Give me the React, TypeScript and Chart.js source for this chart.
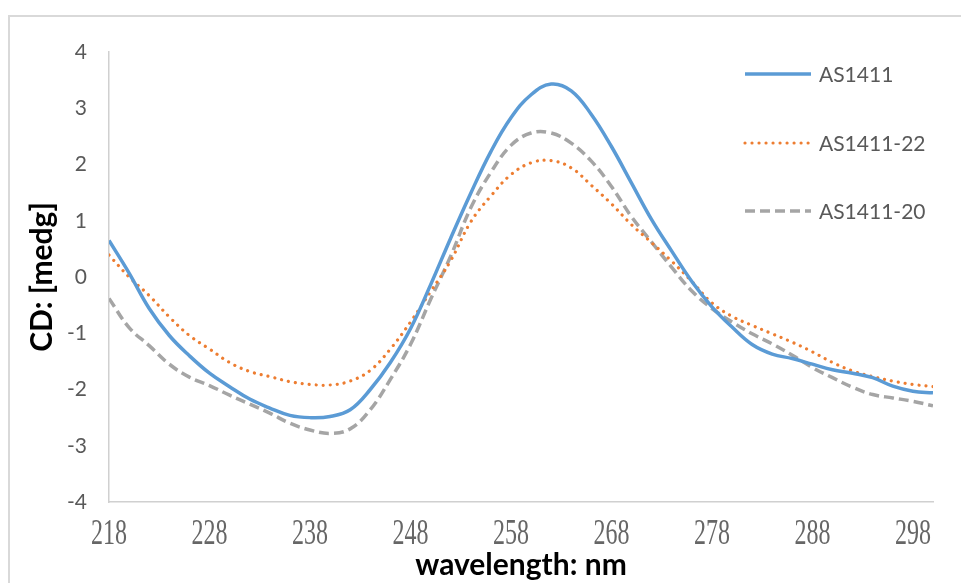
import React, { useEffect, useRef } from "react";
import { Chart, registerables } from "chart.js";

Chart.register(...registerables);

// CD spectra, 218–300 nm sampled every 2 nm
const wavelengths = [
  218, 220, 222, 224, 226, 228, 230, 232, 234, 236, 238, 240, 242, 244, 246, 248, 250, 252, 254, 256, 258,
  260, 262, 264, 266, 268, 270, 272, 274, 276, 278, 280, 282, 284, 286, 288, 290, 292, 294, 296, 298, 300,
];

const as1411 = [
  0.65, 0.07, -0.56, -1.04, -1.4, -1.71, -1.95, -2.17, -2.33, -2.46, -2.5, -2.48, -2.36, -2.0, -1.52, -0.92,
  -0.14, 0.69, 1.49, 2.23, 2.83, 3.24, 3.43, 3.31, 2.89, 2.32, 1.67, 1.02, 0.46, -0.08, -0.53, -0.89, -1.2,
  -1.37, -1.45, -1.55, -1.65, -1.71, -1.79, -1.94, -2.03, -2.06,
];

const as1411_22 = [
  0.39, 0.0, -0.33, -0.71, -1.04, -1.28, -1.52, -1.68, -1.77, -1.86, -1.91, -1.92, -1.85, -1.66, -1.28, -0.8,
  -0.26, 0.29, 0.98, 1.44, 1.82, 2.03, 2.07, 1.94, 1.63, 1.3, 0.93, 0.61, 0.28, -0.08, -0.46, -0.7, -0.86,
  -1.01, -1.16, -1.33, -1.52, -1.67, -1.77, -1.85, -1.91, -1.95,
];

const as1411_20 = [
  -0.38, -0.9, -1.22, -1.55, -1.78, -1.93, -2.1, -2.26, -2.42, -2.6, -2.72, -2.78, -2.7, -2.36, -1.82, -1.2,
  -0.4, 0.37, 1.23, 1.86, 2.34, 2.56, 2.56, 2.38, 2.06, 1.61, 1.07, 0.62, 0.17, -0.25, -0.56, -0.8, -1.01,
  -1.19, -1.39, -1.61, -1.79, -1.96, -2.09, -2.15, -2.21, -2.29,
];

const seriesNames = ["AS1411", "AS1411-22", "AS1411-20"];
const xTickValues = [218, 228, 238, 248, 258, 268, 278, 288, 298];
const yTickValues = [-4, -3, -2, -1, 0, 1, 2, 3, 4];
const xAxisTitle = "wavelength: nm";
const yAxisTitle = "CD: [medg]";

const toPoints = (ys: number[]) => wavelengths.map((x, i) => ({ x, y: ys[i] }));

const TEXT_GRAY = "#595959";
const AXIS_GRAY = "#d0d0d0";

// White background plus the outer chart frame
const framePlugin = {
  id: "frame",
  beforeDraw(chart: any) {
    const { ctx, width, height } = chart;
    ctx.save();
    ctx.fillStyle = "#ffffff";
    ctx.fillRect(0, 0, width, height);
    ctx.strokeStyle = "#d9d9d9";
    ctx.lineWidth = 2;
    ctx.beginPath();
    ctx.moveTo(9, height);
    ctx.lineTo(9, 16);
    ctx.lineTo(width, 16);
    ctx.stroke();
    ctx.restore();
  },
};

// Category-style wavelength labels under the x axis
const xLabelsPlugin = {
  id: "xLabels",
  afterDraw(chart: any) {
    const { ctx } = chart;
    const xs = chart.scales.x;
    ctx.save();
    ctx.font = '24px "Liberation Serif"';
    ctx.fillStyle = "#666666";
    ctx.textAlign = "center";
    ctx.textBaseline = "alphabetic";
    for (const v of xTickValues) {
      const px = xs.getPixelForValue(v);
      ctx.save();
      ctx.translate(px, 544);
      ctx.scale(1, 1.5);
      ctx.fillText(String(v), 0, 0);
      ctx.restore();
    }
    ctx.restore();
  },
};

// Legend stacked in the upper right of the plot
const legendPlugin = {
  id: "sideLegend",
  afterDraw(chart: any) {
    const { ctx } = chart;
    const rows = [74, 143, 211];
    ctx.save();
    chart.data.datasets.forEach((ds: any, i: number) => {
      const y = rows[i];
      ctx.strokeStyle = ds.borderColor;
      ctx.lineWidth = ds.borderWidth;
      ctx.lineCap = ds.borderCapStyle || "butt";
      ctx.setLineDash(ds.borderDash || []);
      ctx.beginPath();
      ctx.moveTo(745, y);
      ctx.lineTo(811, y);
      ctx.stroke();
      ctx.setLineDash([]);
      ctx.font = '21px "Lato"';
      ctx.fillStyle = TEXT_GRAY;
      ctx.textAlign = "left";
      ctx.textBaseline = "middle";
      ctx.fillText(ds.label, 819, y + 1);
    });
    ctx.restore();
  },
};

export default function App() {
  const canvasRef = useRef<HTMLCanvasElement>(null);

  useEffect(() => {
    const canvas = canvasRef.current;
    if (!canvas) return;
    const chart = new Chart(canvas, {
      type: "line",
      data: {
        datasets: [
          {
            label: seriesNames[0],
            data: toPoints(as1411),
            borderColor: "#5B9BD5",
            borderWidth: 3.5,
            pointRadius: 0,
            fill: false,
            tension: 0.4,
          },
          {
            label: seriesNames[1],
            data: toPoints(as1411_22),
            borderColor: "#ED7D31",
            borderWidth: 3.2,
            borderDash: [0.01, 7],
            borderCapStyle: "round",
            pointRadius: 0,
            fill: false,
            tension: 0.4,
          },
          {
            label: seriesNames[2],
            data: toPoints(as1411_20),
            borderColor: "#A5A5A5",
            borderWidth: 3.5,
            borderDash: [10, 5],
            pointRadius: 0,
            fill: false,
            tension: 0.4,
          },
        ],
      },
      options: {
        responsive: false,
        animation: false,
        devicePixelRatio: 1,
        layout: { padding: { left: 0, right: 28, top: 52, bottom: 0 } },
        plugins: {
          legend: { display: false },
          tooltip: { enabled: false },
        },
        scales: {
          x: {
            type: "linear",
            min: 218,
            max: 300,
            afterBuildTicks: (scale: any) => {
              scale.ticks = xTickValues.map((value) => ({ value }));
            },
            afterFit: (scale: any) => {
              scale.height = 81;
            },
            grid: { display: false, drawTicks: false },
            border: { display: true, color: AXIS_GRAY, width: 1.5 },
            ticks: { display: false },
            title: {
              display: true,
              text: xAxisTitle,
              color: "#000000",
              font: { family: "Lato", size: 30, weight: "bold" },
              padding: { top: 0, bottom: 0 },
            },
          },
          y: {
            type: "linear",
            min: -4,
            max: 4,
            afterBuildTicks: (scale: any) => {
              scale.ticks = yTickValues.map((value) => ({ value }));
            },
            afterFit: (scale: any) => {
              scale.width = 109;
            },
            grid: { display: false, drawTicks: false },
            border: { display: true, color: AXIS_GRAY, width: 1.5 },
            ticks: {
              color: TEXT_GRAY,
              font: { family: "Lato", size: 21 },
              padding: 22,
              callback: (v: any) => String(v),
            },
            title: {
              display: true,
              text: yAxisTitle,
              color: "#000000",
              font: { family: "Lato", size: 30, weight: "bold" },
              padding: { top: 24, bottom: 0 },
            },
          },
        },
      },
      plugins: [framePlugin, xLabelsPlugin, legendPlugin],
    });
    return () => chart.destroy();
  }, []);

  return (
    <div style={{ position: "fixed", left: 0, top: 0, width: 961, height: 583, background: "#ffffff" }}>
      <canvas ref={canvasRef} width={961} height={583} style={{ display: "block" }} />
    </div>
  );
}
